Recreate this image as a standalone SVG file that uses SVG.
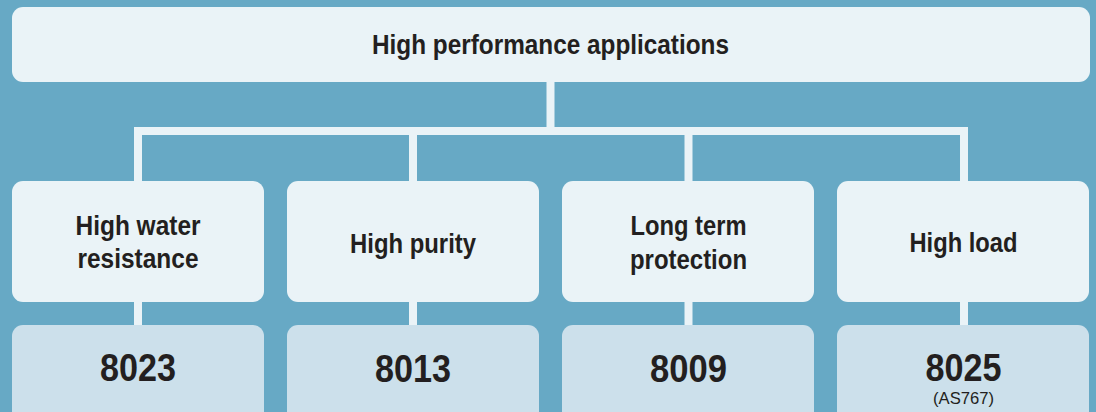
<svg xmlns="http://www.w3.org/2000/svg" width="1096" height="412" viewBox="0 0 1096 412">
<style>
.bg{fill:#67A9C5}
.top{fill:#EAF3F7}
.bot{fill:#CCE0EB}
.ln{stroke:#EAF3F7;stroke-width:8;fill:none;stroke-linecap:butt}
.t{font-family:"Liberation Sans",Arial,sans-serif;font-weight:bold;fill:#231F20;text-anchor:middle}
.h{font-size:28px}
.n{font-size:39px}
.s{font-size:17px;font-weight:normal}
</style>
<rect class="bg" x="0" y="0" width="1096" height="412"/>
<g id="connectors">
<line class="ln" x1="550.5" y1="80" x2="550.5" y2="131"/>
<polyline class="ln" points="138,183 138,131 964,131 964,183"/>
<line class="ln" x1="413" y1="131" x2="413" y2="183"/>
<line class="ln" x1="688.5" y1="131" x2="688.5" y2="183"/>
<line class="ln" x1="138" y1="300" x2="138" y2="327"/>
<line class="ln" x1="413" y1="300" x2="413" y2="327"/>
<line class="ln" x1="688.5" y1="300" x2="688.5" y2="327"/>
<line class="ln" x1="964" y1="300" x2="964" y2="327"/>
</g>
<g id="root">
<rect class="top" x="12" y="7" width="1078" height="75" rx="11"/>
<text class="t h" x="550.5" y="54" textLength="357" lengthAdjust="spacingAndGlyphs">High performance applications</text>
</g>
<g id="cat1">
<rect class="top" x="12" y="181" width="252" height="121" rx="11"/>
<text class="t h" x="138" y="235" textLength="125" lengthAdjust="spacingAndGlyphs">High water</text>
<text class="t h" x="138" y="268" textLength="121" lengthAdjust="spacingAndGlyphs">resistance</text>
</g>
<g id="cat2">
<rect class="top" x="287" y="181" width="252" height="121" rx="11"/>
<text class="t h" x="413" y="252.5" textLength="126" lengthAdjust="spacingAndGlyphs">High purity</text>
</g>
<g id="cat3">
<rect class="top" x="562" y="181" width="252" height="121" rx="11"/>
<text class="t h" x="688.5" y="235" textLength="116" lengthAdjust="spacingAndGlyphs">Long term</text>
<text class="t h" x="688.5" y="269" textLength="117" lengthAdjust="spacingAndGlyphs">protection</text>
</g>
<g id="cat4">
<rect class="top" x="837" y="181" width="252" height="121" rx="11"/>
<text class="t h" x="963.5" y="252" textLength="108" lengthAdjust="spacingAndGlyphs">High load</text>
</g>
<g id="p8023">
<rect class="bot" x="12" y="325" width="252" height="100" rx="11"/>
<text class="t n" x="138" y="381" textLength="76" lengthAdjust="spacingAndGlyphs">8023</text>
</g>
<g id="p8013">
<rect class="bot" x="287" y="325" width="252" height="100" rx="11"/>
<text class="t n" x="413" y="381.5" textLength="76" lengthAdjust="spacingAndGlyphs">8013</text>
</g>
<g id="p8009">
<rect class="bot" x="562" y="325" width="252" height="100" rx="11"/>
<text class="t n" x="688.5" y="381.5" textLength="77" lengthAdjust="spacingAndGlyphs">8009</text>
</g>
<g id="p8025">
<rect class="bot" x="837" y="325" width="252" height="100" rx="11"/>
<text class="t n" x="963.5" y="381" textLength="76" lengthAdjust="spacingAndGlyphs">8025</text>
<text class="t s" x="963.5" y="403.5" textLength="61" lengthAdjust="spacingAndGlyphs">(AS767)</text>
</g>
</svg>
